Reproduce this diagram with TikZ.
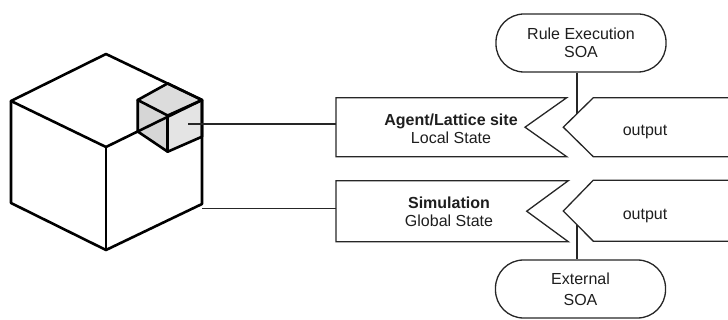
\documentclass[tikz,border=0pt]{standalone}
\usepackage{fontspec}
\setmainfont{Liberation Sans}
\usetikzlibrary{calc,intersections}

\definecolor{ink}{HTML}{1E1E1E}
\definecolor{faceTop}{HTML}{DCDCDC}
\definecolor{faceLeft}{HTML}{D6D6D6}
\definecolor{faceRight}{HTML}{E4E4E4}

\begin{document}
\begin{tikzpicture}[x=1pt,y=-1pt,
  cubeline/.style={line width=2.6pt, line join=round, line cap=round, draw=black},
  boxline/.style={line width=1.3pt, line join=miter, draw=black!85},
  link/.style={line width=1.3pt, draw=black!85},
  txt/.style={font=\fontsize{16}{18}\selectfont, align=center, inner sep=0pt, text=ink},
  soa/.style={draw=black!85, line width=1.3pt, rounded corners=28pt,
              minimum width=170pt, minimum height=58pt, txt}
]
\useasboundingbox (0,0) rectangle (728,320);

% ---- large cube (isometric outline) ----
\coordinate (cTop) at (106,54);
\coordinate (cLeft) at (11,101);
\coordinate (cRight) at (202,100);
\coordinate (cMid) at (106,147);
\coordinate (cBL) at (11,203);
\coordinate (cBR) at (202,204);
\coordinate (cBot) at (106,250);

% ---- small cube at the top-right corner ----
\coordinate (sB) at (167.7,83.4);
\coordinate (sL) at (137.7,100);
\coordinate (sR) at (202,100);
\coordinate (sF) at (167.7,115.5);
\coordinate (sLb) at (137.7,131.5);
\coordinate (sFb) at (167.7,151.7);
\coordinate (sRb) at (202,136.7);

\fill[faceTop] (sB) -- (sR) -- (sF) -- (sL) -- cycle;
\fill[faceLeft] (sL) -- (sF) -- (sFb) -- (sLb) -- cycle;
\fill[faceRight] (sF) -- (sR) -- (sRb) -- (sFb) -- cycle;

\draw[cubeline] (cTop) -- (cLeft) -- (cMid) -- (cRight) -- cycle;
\draw[cubeline] (cLeft) -- (cBL) -- (cBot) -- (cBR) -- (cRight);
\draw[cubeline] (cMid) -- (cBot);

\draw[cubeline] (sB) -- (sR) -- (sF) -- (sL) -- cycle;
\draw[cubeline] (sL) -- (sLb) -- (sFb) -- (sRb) -- (sR);
\draw[cubeline] (sF) -- (sFb);

% ---- state boxes with notched right side ----
\draw[boxline] (336,97.7) -- (566.7,97.7) -- (525,127.2) -- (566.7,156.7) -- (336,156.7) -- cycle;
\node[txt] (agent) at (451,129) {\textbf{Agent/Lattice site}\\Local State};

\draw[boxline] (336,180.7) -- (568.3,180.7) -- (526.7,211.2) -- (568.3,241.7) -- (336,241.7) -- cycle;
\node[txt, font=\fontsize{16}{18.5}\selectfont] (sim) at (449,211.8) {\textbf{Simulation}\\Global State};

% ---- output arrows entering from the right ----
\draw[boxline, name path=outA] (730,97.7) -- (593.3,97.7) -- (563.3,127.2) -- (593.3,156.7) -- (730,156.7);
\node[txt] (outputA) at (645,132) {output};

\draw[boxline, name path=outB] (730,180.2) -- (593.3,180.2) -- (563.3,211) -- (593.3,241.2) -- (730,241.2);
\node[txt] (outputB) at (645,216) {output};

% ---- service nodes ----
\node[soa, font=\fontsize{16}{17.5}\selectfont] (rule) at (581,43) {Rule Execution\\SOA};
\node[soa, font=\fontsize{16}{21}\selectfont] (ext) at (580.5,289) {External\\SOA};

% ---- connectors ----
\coordinate (cubeA) at (188,124);
\coordinate (agentW) at (336,124);
\coordinate (cubeB) at (202,208.3);
\coordinate (simW) at (336,208.3);
\draw[link] (cubeA) -- (agentW);
\draw[link] (cubeB) -- (simW);

\path[name path=tapA] (577,60) -- (577,140);
\path[name path=tapB] (577,200) -- (577,270);
\path[name intersections={of=tapA and outA, by=hitA}];
\path[name intersections={of=tapB and outB, by=hitB}];
\draw[link] (rule.south -| hitA) -- (hitA);
\draw[link] (hitB) -- (ext.north -| hitB);
\end{tikzpicture}
\end{document}
